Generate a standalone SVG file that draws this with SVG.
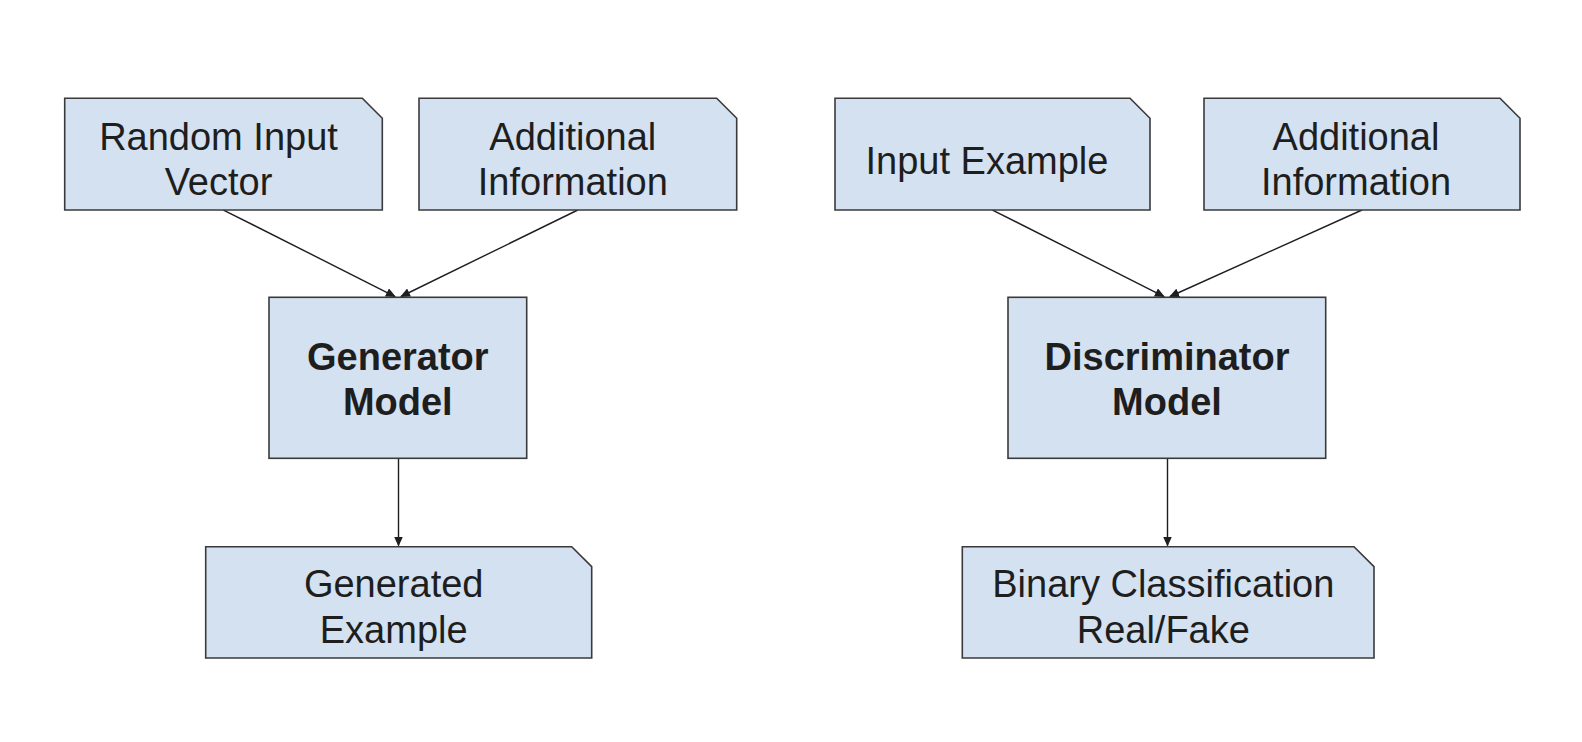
<svg xmlns="http://www.w3.org/2000/svg" width="1582" height="742" viewBox="0 0 1582 742">
<style>
.box{fill:#d4e1f1;stroke:#3a3a3a;stroke-width:1.6}
.t{font-family:"Liberation Sans",Arial,sans-serif;font-size:38px;fill:#1e1e1e;text-anchor:middle}
.b{font-weight:bold}
.c{fill:none;stroke:#1e1e1e;stroke-width:1.4;marker-end:url(#ah)}
</style>
<defs>
<marker id="ah" markerUnits="userSpaceOnUse" markerWidth="10" markerHeight="9" refX="9" refY="4.5" orient="auto" viewBox="0 0 10 9">
<path d="M0,0 L10,4.5 L0,9 z" fill="#1e1e1e"/>
</marker>
</defs>
<rect width="1582" height="742" fill="#ffffff"/>
<g id="connectors">
<line class="c" x1="223.5" y1="210" x2="395" y2="296.5"/>
<line class="c" x1="577.8" y1="210" x2="401" y2="296.5"/>
<line class="c" x1="398.5" y1="459" x2="398.5" y2="545.5"/>
<line class="c" x1="992.5" y1="210" x2="1164" y2="296.5"/>
<line class="c" x1="1362" y1="210" x2="1170" y2="296.5"/>
<line class="c" x1="1167.5" y1="459" x2="1167.5" y2="545.5"/>
</g>
<g id="random-input">
<path class="box" d="M64.7,98.3 H362.3 L382.3,118.3 V210 H64.7 Z"/>
<text class="t" x="218.5" y="150">Random Input</text>
<text class="t" x="218.5" y="195">Vector</text>
</g>
<g id="additional-info-1">
<path class="box" d="M419,98.3 H716.7 L736.7,118.3 V210 H419 Z"/>
<text class="t" x="572.8" y="150">Additional</text>
<text class="t" x="572.8" y="195">Information</text>
</g>
<g id="generator">
<rect class="box" x="269" y="297.3" width="257.7" height="161"/>
<text class="t b" x="397.8" y="370">Generator</text>
<text class="t b" x="397.8" y="415">Model</text>
</g>
<g id="generated-example">
<path class="box" d="M205.7,546.7 H571.7 L591.7,566.7 V658 H205.7 Z"/>
<text class="t" x="393.7" y="597">Generated</text>
<text class="t" x="393.7" y="643">Example</text>
</g>
<g id="input-example">
<path class="box" d="M835,98.3 H1130 L1150,118.3 V210 H835 Z"/>
<text class="t" x="987" y="173.5">Input Example</text>
</g>
<g id="additional-info-2">
<path class="box" d="M1204,98.3 H1500 L1520,118.3 V210 H1204 Z"/>
<text class="t" x="1356" y="150">Additional</text>
<text class="t" x="1356" y="195">Information</text>
</g>
<g id="discriminator">
<rect class="box" x="1008" y="297.3" width="317.7" height="161"/>
<text class="t b" x="1167" y="370">Discriminator</text>
<text class="t b" x="1167" y="415">Model</text>
</g>
<g id="binary-classification">
<path class="box" d="M962.3,546.7 H1354 L1374,566.7 V658 H962.3 Z"/>
<text class="t" x="1163.3" y="597">Binary Classification</text>
<text class="t" x="1163.3" y="643">Real/Fake</text>
</g>
</svg>
